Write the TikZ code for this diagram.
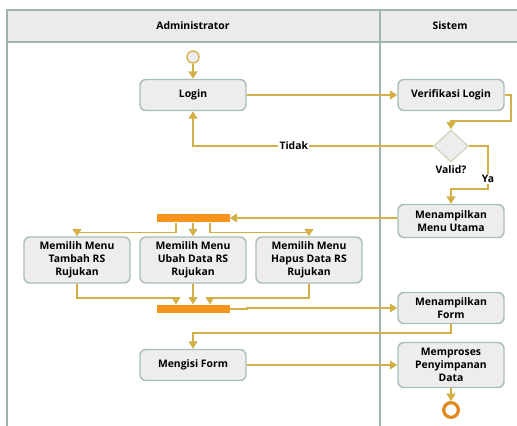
\documentclass[tikz,border=0pt]{standalone}
\usepackage{fontspec}
\setmainfont{Open Sans}
\usetikzlibrary{arrows.meta,shapes.geometric,positioning,calc}

\definecolor{laneline}{HTML}{9DB5AE}
\definecolor{headfill}{HTML}{EBEBEB}
\definecolor{boxfill}{HTML}{EDEDED}
\definecolor{boxline}{HTML}{A9BEB6}
\definecolor{flowcol}{HTML}{D2AF47}
\definecolor{barcol}{HTML}{F7941D}
\definecolor{endcol}{HTML}{E08A1E}

\tikzset{
  act/.style={draw=boxline, fill=boxfill, rounded corners=4.5pt, line width=1.1pt,
    minimum width=79.5pt, minimum height=23.25pt, align=center, inner sep=2pt,
    font=\bfseries\fontsize{7.8}{9.6}\selectfont},
  tallact/.style={act, minimum height=34.5pt},
  bar/.style={fill=barcol, minimum width=54.75pt, minimum height=6.5pt, inner sep=0pt},
  flow/.style={draw=flowcol, line width=1.3pt, -{Triangle[width=6.5pt,length=5.5pt]}},
  lbl/.style={font=\bfseries\fontsize{7.8}{9.6}\selectfont, inner sep=1pt},
}

\begin{document}
\begin{tikzpicture}[x=0.75pt,y=-0.75pt]
  \useasboundingbox (0,0) rectangle (517,425);
  \clip (0,0) rectangle (517,425);

  % swimlanes
  \draw[laneline, line width=1.6pt, fill=headfill] (7,10) rectangle (540,42);
  \draw[laneline, line width=1.6pt] (7,42) -- (7,440);
  \draw[laneline, line width=1.6pt] (380,10) -- (380,440);
  \node[lbl] (admin) at (193,26) {Administrator};
  \node[lbl] (sistem) at (450,26) {Sistem};

  % nodes
  \node[circle, draw=flowcol, fill=boxfill, line width=1pt, minimum size=9pt, inner sep=0pt] (start) at (193,57) {};
  \node[act] (login) at (193,95) {Login};
  \node[act] (verif) at (451,95) {Verifikasi Login};
  \node[diamond, draw=boxline!70!flowcol!60!white, fill=boxfill, line width=1pt,
        minimum width=26pt, minimum height=24pt, inner sep=0pt,
        label={[lbl, label distance=1pt]below:Valid?}] (valid) at (451,146) {};
  \node[act, minimum height=24.75pt] (menu) at (451,221) {Menampilkan\\Menu Utama};
  \node[bar] (fork) at (193,218) {};
  \node[tallact] (tambah) at (77,260) {Memilih Menu\\Tambah RS\\Rujukan};
  \node[tallact] (ubah) at (193,260) {Memilih Menu\\Ubah Data RS\\Rujukan};
  \node[tallact] (hapus) at (309,260) {Memilih Menu\\Hapus Data RS\\Rujukan};
  \node[bar] (join) at (193,309) {};
  \node[act] (form) at (451,308) {Menampilkan\\Form};
  \node[act] (isi) at (193,365) {Mengisi Form};
  \node[tallact, minimum height=33.75pt] (proses) at (451,365) {Memproses\\Penyimpanan\\Data};
  \node[circle, draw=endcol, line width=2.4pt, minimum size=11pt, inner sep=0pt, fill=white] (end) at (451,410) {};

  % connectors
  \draw[flow] (start) -- (login);
  \draw[flow] (login) -- (verif);
  \draw[flow] (verif.east) -- ++(6,0) |- ($(valid.north)+(0,-8)$) -- (valid.north);
  \draw[flow] (valid.west) -| node[lbl, pos=0.29, fill=white] {Tidak} (login.south);
  \draw[flow] (valid.east) -| ++(19,43) node[lbl, pos=0.88, fill=white] {Ya} -| (menu.north);
  \draw[flow] (menu.west |- fork.east) -- (fork.east);
  \draw[flow] ($(fork.south)+(-17,0)$) -- ++(0,10) -| (tambah.north);
  \draw[flow] (fork.south) -- (ubah.north);
  \draw[flow] ($(fork.south)+(17,0)$) -- ++(0,10) -| (hapus.north);
  \draw[flow] (tambah.south) -- ++(0,14) -| ($(join.north)+(-17,0)$);
  \draw[flow] (ubah.south) -- (join.north);
  \draw[flow] (hapus.south) -- ++(0,14) -| ($(join.north)+(17,0)$);
  \draw[flow] (join.east) -- ++(17,0) |- (form.west);
  \draw[flow] (form.south) -- ++(0,9) -| (isi.north);
  \draw[flow] (isi) -- (proses);
  \draw[flow] (proses.south) -- (end.north);
\end{tikzpicture}
\end{document}
